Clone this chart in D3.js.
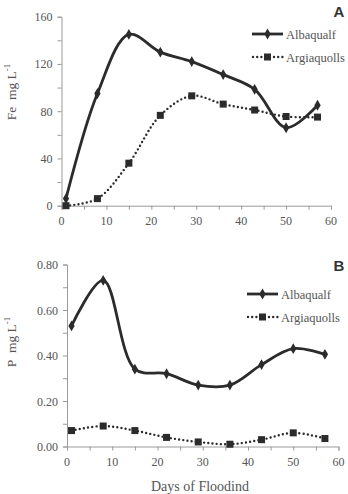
<!DOCTYPE html>
<html>
<head>
<meta charset="utf-8">
<script src="https://cdn.jsdelivr.net/npm/d3@7"></script>
<style>
  body { margin: 0; background: #fff; }
  svg { display: block; }
  .serif { font-family: "Liberation Serif", "Times New Roman", Times, "DejaVu Serif", serif; }
</style>
</head>
<body>
<div id="chart"></div>
<script>
// days sampled
const days = [1, 8, 15, 22, 29, 36, 43, 50, 57];
// panel A: Fe mg/L
const feAlbaqualf = [6, 95, 145, 130, 122, 111, 98.5, 66, 85];
const feArgiaquolls = [0, 6, 36, 76.5, 93, 86, 81, 75.5, 75];
// panel B: P mg/L
const pAlbaqualf = [0.53, 0.73, 0.34, 0.32, 0.27, 0.27, 0.36, 0.43, 0.405];
const pArgiaquolls = [0.07, 0.09, 0.07, 0.04, 0.02, 0.01, 0.03, 0.06, 0.035];
const xTicks = [0, 10, 20, 30, 40, 50, 60];
const feTicks = [0, 40, 80, 120, 160];
const pTicks = [0, 0.2, 0.4, 0.6, 0.8];
const seriesNames = ["Albaqualf", "Argiaquolls"];

const svg = d3.select("#chart").append("svg")
    .attr("width", 348)
    .attr("height", 494);

const axisColor = "#9a9a9a";
const textColor = "#555";
const lineColor = "#2b2b2b";

function panel(props) {
    const g = svg.append("g");
    const x = d3.scaleLinear().domain([0, 60]).range(props.xRange);
    const y = d3.scaleLinear().domain(props.yDomain).range(props.yRange);

    // axes, with minor ticks between the labelled ones
    const xAxis = d3.axisBottom(x).tickValues(d3.range(0, 61, 5)).tickSize(4).tickFormat("");
    const yAxis = d3.axisLeft(y).tickValues(d3.range(0, props.yDomain[1] * 1.0001, props.yDomain[1] / 8)).tickSize(4).tickFormat("");

    const gx = g.append("g").attr("transform", `translate(0,${props.yRange[0]})`).call(xAxis);
    const gy = g.append("g").attr("transform", `translate(${props.xRange[0]},0)`).call(yAxis);
    [gx, gy].forEach(a => {
        a.selectAll("path").attr("stroke", axisColor).attr("stroke-width", 1);
        a.selectAll("line").attr("stroke", axisColor).attr("stroke-width", 1);
    });

    g.selectAll(".xl").data(xTicks).enter().append("text")
        .attr("class", "serif")
        .attr("x", d => x(d))
        .attr("y", props.yRange[0] + 19)
        .attr("text-anchor", "middle")
        .attr("font-size", 12)
        .attr("fill", textColor)
        .text(d => d);

    g.selectAll(".yl").data(props.yTicks).enter().append("text")
        .attr("class", "serif")
        .attr("x", props.xRange[0] - 9)
        .attr("y", d => y(d) + 4.5)
        .attr("text-anchor", "end")
        .attr("font-size", 12)
        .attr("fill", textColor)
        .text(props.yFormat);

    // y title
    const yt = g.append("text")
        .attr("class", "serif")
        .attr("transform", `translate(${props.yTitleX},${props.yTitleY}) rotate(-90)`)
        .attr("text-anchor", "middle")
        .attr("font-size", 13.5)
        .attr("fill", textColor);
    yt.append("tspan").text(props.elem + "\u00a0\u00a0mg L");
    yt.append("tspan").attr("dy", -6).attr("font-size", 9).text("-1");

    // panel letter
    g.append("text")
        .attr("x", 339).attr("y", props.letterY)
        .attr("text-anchor", "middle")
        .attr("font-family", "Liberation Sans, Arial, sans-serif")
        .attr("font-weight", "bold")
        .attr("font-size", 15)
        .attr("fill", "#333")
        .text(props.letter);

    const line = d3.line()
        .x((d, i) => x(days[i]))
        .y(d => y(d))
        .curve(d3.curveCatmullRom.alpha(0.5));

    // Argiaquolls dotted
    g.append("path").datum(props.s2)
        .attr("d", line)
        .attr("fill", "none")
        .attr("stroke", lineColor)
        .attr("stroke-width", 2.4)
        .attr("stroke-linecap", "round")
        .attr("stroke-dasharray", "0,4.2");
    g.selectAll(".sq").data(props.s2).enter().append("rect")
        .attr("x", (d, i) => x(days[i]) - 3.5)
        .attr("y", d => y(d) - 3.5)
        .attr("width", 7).attr("height", 7)
        .attr("fill", lineColor);

    // Albaqualf solid
    g.append("path").datum(props.s1)
        .attr("d", line)
        .attr("fill", "none")
        .attr("stroke", lineColor)
        .attr("stroke-width", 2.8);
    const diamond = d3.symbol().type(d3.symbolDiamond).size(34);
    g.selectAll(".dm").data(props.s1).enter().append("path")
        .attr("d", diamond)
        .attr("transform", (d, i) => `translate(${x(days[i])},${y(d)})`)
        .attr("fill", lineColor);

    // legend
    const lg = g.append("g");
    const lx0 = props.legX, lx1 = props.legX + 31;
    lg.append("line").attr("x1", lx0).attr("x2", lx1)
        .attr("y1", props.legY).attr("y2", props.legY)
        .attr("stroke", lineColor).attr("stroke-width", 2.8);
    lg.append("path").attr("d", diamond)
        .attr("transform", `translate(${(lx0 + lx1) / 2},${props.legY})`)
        .attr("fill", lineColor);
    lg.append("line").attr("x1", lx0 + 1).attr("x2", lx1)
        .attr("y1", props.legY + 23).attr("y2", props.legY + 23)
        .attr("stroke", lineColor).attr("stroke-width", 2.4)
        .attr("stroke-linecap", "round").attr("stroke-dasharray", "0,4.2");
    lg.append("rect")
        .attr("x", (lx0 + lx1) / 2 - 3.5).attr("y", props.legY + 19.5)
        .attr("width", 7).attr("height", 7).attr("fill", lineColor);
    lg.selectAll("text").data(seriesNames).enter().append("text")
        .attr("class", "serif")
        .attr("x", lx1 + 3)
        .attr("y", (d, i) => props.legY + 4.5 + i * 23)
        .attr("font-size", 12.5)
        .attr("fill", textColor)
        .text(d => d);
}

panel({
    xRange: [61.5, 331], yDomain: [0, 160], yRange: [205.7, 16.7],
    yTicks: feTicks, yFormat: d => d,
    s1: feAlbaqualf, s2: feArgiaquolls,
    elem: "Fe", yTitleX: 16, yTitleY: 92,
    letter: "A", letterY: 17,
    legX: 252, legY: 34
});

panel({
    xRange: [67, 338.5], yDomain: [0, 0.8], yRange: [446.5, 264.5],
    yTicks: pTicks, yFormat: d => d3.format(".2f")(d),
    s1: pAlbaqualf, s2: pArgiaquolls,
    elem: "P", yTitleX: 16, yTitleY: 342,
    letter: "B", letterY: 271,
    legX: 247, legY: 294
});

svg.append("text")
    .attr("class", "serif")
    .attr("x", 200).attr("y", 491)
    .attr("text-anchor", "middle")
    .attr("font-size", 14)
    .attr("fill", textColor)
    .text("Days of Floodind");
</script>
</body>
</html>
